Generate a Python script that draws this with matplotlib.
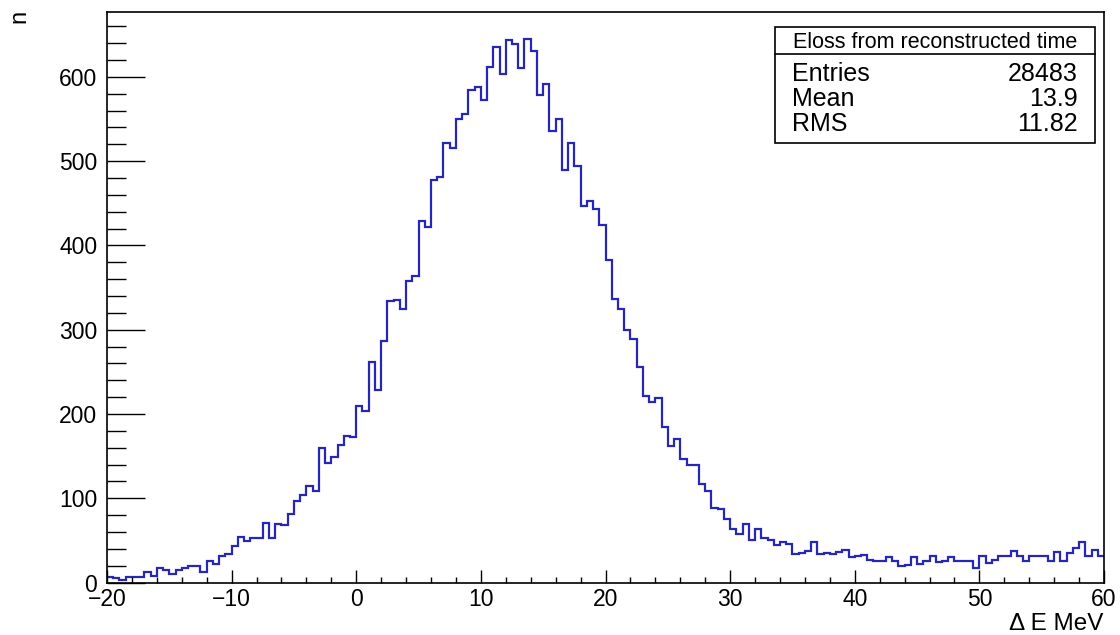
import numpy as np
import matplotlib
matplotlib.use("Agg")
import matplotlib.pyplot as plt
from matplotlib.patches import Rectangle
from matplotlib.lines import Line2D
from matplotlib.ticker import MultipleLocator

plt.rcParams['font.family'] = ['Liberation Sans', 'DejaVu Sans']

# Histogram: 160 bins of 0.5 MeV from -20 to 60
x_min, x_max, n_bins = -20.0, 60.0, 160
counts = [
    # -20 .. 0
    7, 5, 3, 6, 7, 6, 12, 8, 17, 15, 10, 15, 17, 19, 20, 12, 25, 22, 32, 34,
    43, 54, 49, 53, 53, 71, 53, 70, 68, 81, 97, 104, 114, 109, 160, 142, 149, 163, 174, 173,
    # 0 .. 20
    209, 204, 262, 229, 286, 334, 335, 324, 358, 364, 429, 422, 478, 481,
    522, 516, 550, 556, 585, 588, 572, 612, 635, 603, 644, 639, 611, 645, 631, 578,
    592, 536, 550, 489, 521, 494, 447, 453, 443, 424,
    # 20 .. 40
    383, 337, 324, 300, 289, 256, 221, 214, 219, 184, 162, 170, 147, 140, 139, 117, 108,
    88, 87, 75, 63, 58, 70, 50, 63, 53, 50, 45, 48, 46, 34, 35, 37, 48, 34, 35, 34, 36, 39, 30,
    # 40 .. 60
    32, 33, 27, 25, 26, 30, 25, 19, 21, 30, 22, 25, 32, 24, 26, 30, 25, 26, 25, 17,
    32, 23, 27, 31, 32, 37, 32, 26, 31, 31, 32, 26, 36, 25, 35, 41, 48, 32, 38, 32,
]
y_max = 677

stats_title = "Eloss from reconstructed time"
stats_names = ["Entries", "Mean", "RMS"]
stats_values = ["28483", "13.9", "11.82"]
x_label = "\u0394 E MeV"
y_label = "n"

W, H = 1120, 635
fig = plt.figure(figsize=(W / 100, H / 100), dpi=100)
L, R, T, B = 107, 1104, 12, 582.5
ax = fig.add_axes([L / W, 1 - B / H, (R - L) / W, (B - T) / H])

edges = np.linspace(x_min, x_max, n_bins + 1)
ax.stairs(counts, edges, baseline=None, color="#2626b8", linewidth=1.6)

ax.set_xlim(x_min, x_max)
ax.set_ylim(0, y_max)

ax.xaxis.set_major_locator(MultipleLocator(10))
ax.xaxis.set_minor_locator(MultipleLocator(2))
ax.yaxis.set_major_locator(MultipleLocator(100))
ax.yaxis.set_minor_locator(MultipleLocator(20))

ax.tick_params(axis='x', which='major', direction='in', length=9.5, width=1.0,
               labelsize=16.5, pad=4, top=False)
ax.tick_params(axis='x', which='minor', direction='in', length=4.5, width=1.0, top=False)
ax.tick_params(axis='y', which='major', direction='in', length=27, width=1.0,
               labelsize=16.5, pad=7, right=False)
ax.tick_params(axis='y', which='minor', direction='in', length=13.5, width=1.0, right=False)

for s in ax.spines.values():
    s.set_linewidth(1.2)

ax.set_xticks(np.arange(-20, 61, 10))
ax.set_xticklabels([f"{int(v)}".replace("-", "\u2212") for v in np.arange(-20, 61, 10)])

def fx(px):
    return px / W

def fy(py):
    return 1 - py / H

# axis labels
fig.text(fx(1103), fy(630), x_label, ha='right', va='baseline', fontsize=17.5)
fig.text(fx(19), fy(10), y_label, ha='center', va='top', rotation=90, fontsize=17)

# stats box
bx0, bx1, by0, by1, bdiv = 775, 1095, 26.5, 143, 54
fig.patches.append(Rectangle((fx(bx0), fy(by1)), fx(bx1) - fx(bx0), fy(by0) - fy(by1),
                             transform=fig.transFigure, facecolor='white',
                             edgecolor='black', linewidth=1.2, zorder=5))
fig.lines.append(Line2D([fx(bx0), fx(bx1)], [fy(bdiv), fy(bdiv)],
                        transform=fig.transFigure, color='black', linewidth=1.2, zorder=6))
fig.text(fx((bx0 + bx1) / 2), fy(48), stats_title, ha='center', va='baseline',
         fontsize=15.5, zorder=7)
for i, (nme, val) in enumerate(zip(stats_names, stats_values)):
    yb = 81 + i * 25
    fig.text(fx(792), fy(yb), nme, ha='left', va='baseline', fontsize=18, zorder=7)
    fig.text(fx(1078), fy(yb), val, ha='right', va='baseline', fontsize=18, zorder=7)

fig.savefig("out.png", dpi=100)
